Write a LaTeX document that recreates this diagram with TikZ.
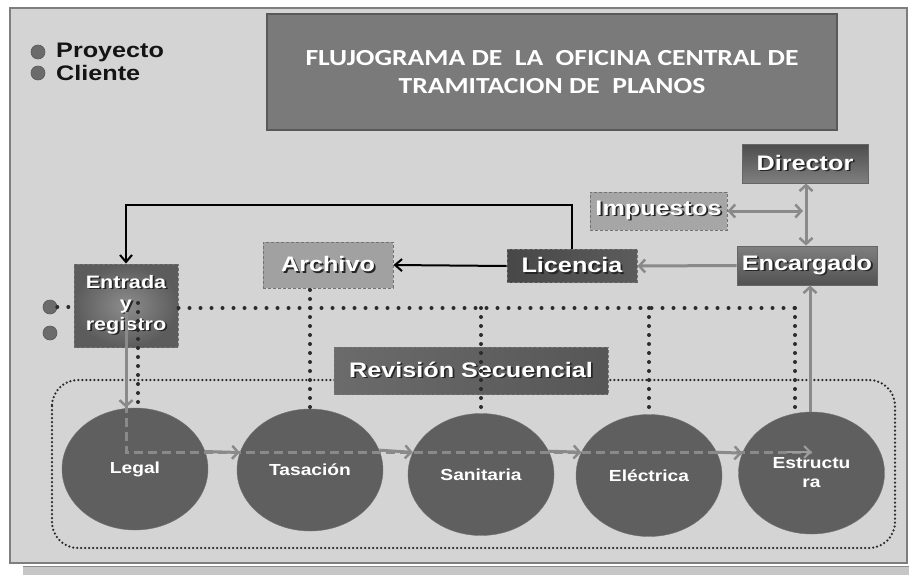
\documentclass[tikz,border=0pt]{standalone}
\usepackage{fontspec}
\setmainfont{Liberation Sans}
\newfontfamily\titlefont{Carlito}
\usepackage{graphicx}
\usetikzlibrary{arrows.meta,shapes.geometric,calc}
\definecolor{bgc}{HTML}{D4D4D4}
\definecolor{framec}{HTML}{7E7E7E}
\definecolor{titlec}{HTML}{7A7A7A}
\definecolor{circc}{HTML}{5F5F5F}
\definecolor{lightbox}{HTML}{A6A6A6}
\definecolor{dotc}{HTML}{2B2B2B}
\definecolor{garr}{HTML}{8A8A8A}
\definecolor{shadowc}{HTML}{C6C6C6}
\newcommand\sx[1]{\scalebox{1.2}[1]{#1}}
\newcommand\shtxt[1]{\makebox[0pt][l]{\hspace{1.5pt}\raisebox{-1.5pt}{\textcolor{black!85}{#1}}}#1}
\newcommand\lbl[1]{\sx{\shtxt{#1}}}
\begin{document}
\begin{tikzpicture}[x=1pt,y=-1pt,
  boxbase/.style={rectangle,inner sep=0pt,text=white,font=\fontsize{21}{24}\selectfont\bfseries,align=center},
  darkbox/.style={boxbase,draw=black!60,line width=0.8pt},
  dashbox/.style={boxbase,draw=black!55,line width=1pt,densely dashed},
  circ/.style={ellipse,fill=circc,draw=black!55,line width=0.4pt,minimum width=146pt,minimum height=122pt,inner sep=0pt,text=white,font=\fontsize{16}{19}\selectfont\bfseries,align=center},
  dotline/.style={draw=dotc,line width=4pt,line cap=round,dash pattern=on 0pt off 11pt},
  vdotline/.style={draw=dotc,line width=4pt,line cap=round,dash pattern=on 0pt off 9pt},
  fdotline/.style={draw=dotc,line width=2.5pt,line cap=round,dash pattern=on 0pt off 4pt},
  garrow/.style={draw=garr,line width=3pt,-{Straight Barb[length=6pt,width=13pt,line width=2.5pt]}},
  gdouble/.style={draw=garr,line width=3pt,{Straight Barb[length=6pt,width=13pt,line width=2.5pt]}-{Straight Barb[length=6pt,width=13pt,line width=2.5pt]}},
  gdash/.style={draw=garr,line width=3pt,dash pattern=on 9pt off 5pt},
  barrow/.style={draw=black,line width=2pt,-{Straight Barb[length=7pt,width=12pt,line width=2pt]}},
  legdot/.style={circle,fill=black!58,draw=black!65,line width=0.6pt,minimum size=14pt,inner sep=0pt}
]
\useasboundingbox (0,0) rectangle (909,575);
\fill[white] (0,0) rectangle (909,575);
% frame and shadow
\fill[shadowc] (23,566) rectangle (909,575);
\draw[black!45,line width=1pt] (23,566) -- (909,566);
\filldraw[fill=bgc,draw=framec,line width=1.8pt] (10,8) rectangle (907,563);

% title
\node[rectangle,fill=titlec,draw=black!65,line width=1.2pt,minimum width=570pt,minimum height=116pt,inner sep=0pt,text=white,align=center,
  font=\titlefont\fontsize{23}{28}\selectfont\bfseries] (title) at (552,72)
  {\sx{FLUJOGRAMA DE\ \ LA\ \ OFICINA CENTRAL DE}\\\sx{TRAMITACION DE\ \ PLANOS}};

% legend
\node[legdot] (lp) at (38,52) {};
\node[legdot] (lcl) at (38,73) {};
\node[anchor=west,inner sep=0pt,text=black!92,font=\fontsize{21}{24}\selectfont\bfseries] (proy) at (56,52) {\sx{Proyecto}};
\node[anchor=west,inner sep=0pt,text=black!92,font=\fontsize{21}{24}\selectfont\bfseries] (cli) at (56,73) {\sx{Cliente}};

% big dotted rounded container
\draw[fdotline,rounded corners=26pt] (52,380) rectangle (895,548);

% boxes
\node[darkbox,top color=black!70,bottom color=black!50,minimum width=126pt,minimum height=39pt] (director) at (805,163.5) {\lbl{Director}};
\node[dashbox,fill=lightbox,minimum width=137pt,minimum height=38pt] (impuestos) at (658.5,211) {\lbl{Impuestos}};
\node[darkbox,top color=black!50,bottom color=black!68,minimum width=140pt,minimum height=39pt] (encargado) at (807,265.5) {\lbl{Encargado}};
\node[dashbox,left color=black!72,right color=black!64,minimum width=130pt,minimum height=33pt] (licencia) at (572,266) {\lbl{Licencia}};
\node[dashbox,fill=lightbox!97!black,minimum width=130pt,minimum height=46pt] (archivo) at (328,265) {\lbl{Archivo}};
\node[dashbox,inner color=black!45,outer color=black!64,minimum width=104pt,minimum height=83pt,font=\fontsize{18}{21}\selectfont\bfseries] (entrada) at (126,305.5) {\lbl{Entrada}\\\lbl{y}\\\lbl{registro}};
\node[dashbox,left color=black!58,right color=black!66,minimum width=274pt,minimum height=47pt] (revision) at (471,370.5) {\lbl{Revisión Secuencial}};

% circles
\node[circ] (legal) at (135,469) {\sx{Legal}};
\node[circ] (tasacion) at (310,470) {\sx{Tasación}};
\node[circ] (sanitaria) at (481,474.5) {\sx{Sanitaria}};
\node[circ] (electrica) at (649,475.5) {\sx{Eléctrica}};
\node[circ] (estructura) at (811.5,473) {\sx{Estructu}\\\sx{ra}};

% small left circles
\node[legdot] (lc1) at (50,307) {};
\node[legdot] (lc2) at (50,333) {};

% dotted lines
\coordinate (hcorner) at (795,308);
\draw[dotline] (lc1.east) -- (lc1.east -| entrada.west);
\draw[dotline] (entrada.east |- hcorner) -- (hcorner);
\draw[vdotline] (hcorner) -- ($(hcorner |- estructura.north)+(0,2)$);
\coordinate (va) at (310,290);
\draw[vdotline] (va) -- (tasacion.north);
\draw[vdotline] (sanitaria.north |- hcorner) -- (sanitaria.north);
\draw[vdotline] (electrica.north |- hcorner) -- (electrica.north);
\coordinate (vl) at (138,303);
\draw[vdotline] (vl) -- (vl |- legal.north);

% gray flow through review circles
\coordinate (flowy) at (126,452);
\draw[gdash] (entrada.south) -- (flowy) -- (flowy -| estructura.center);
\draw[draw=garr!85!white,line width=2pt,-{Straight Barb[length=6pt,width=12pt,line width=2pt]}] ($(flowy -| estructura.center)+(-25,0)$) -- (flowy -| estructura.center);
\draw[garrow] ($(entrada.south)+(0,-36)$) -- (entrada.south |- legal.north);
\draw[garrow] (legal.14) -- (tasacion.166);
\draw[garrow] (tasacion.16) -- (sanitaria.162);
\draw[garrow] (sanitaria.19) -- (electrica.161);
\draw[garrow] (electrica.19) -- (estructura.164);

% management arrows
\coordinate (junc) at (806,211);
\draw[gdouble] (director.south -| junc) -- (encargado.north -| junc);
\draw[gdouble] (impuestos.east) -- ($(junc)+(-3,0)$);
\draw[garrow] (encargado.west) -- (licencia.east);
\draw[garrow] (estructura.north -| 810,0) -- (encargado.south -| 810,0);
\draw[barrow] (licencia.west) -- (archivo.east);
\draw[barrow] (licencia.north) -- (licencia.north |- 0,205) -- (entrada.north |- 0,205) -- (entrada.north);
\end{tikzpicture}
\end{document}
